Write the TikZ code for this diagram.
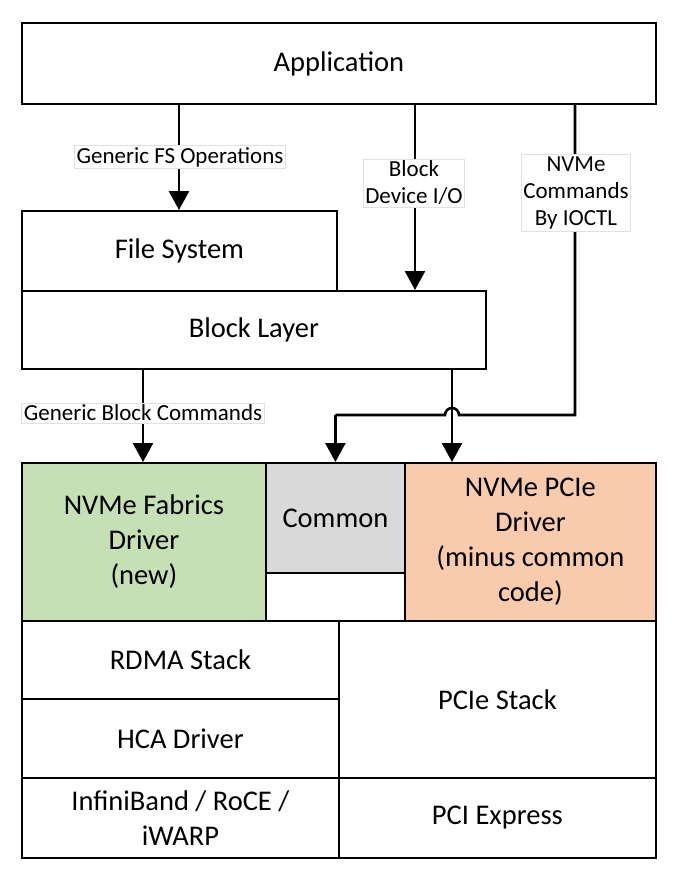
\documentclass[tikz,border=0pt]{standalone}
\usepackage{fontspec}
\setmainfont{Carlito}
\usetikzlibrary{arrows.meta}
\definecolor{fabgreen}{HTML}{C5E0B4}
\definecolor{comgray}{HTML}{D9D9D9}
\definecolor{pcieorange}{HTML}{F8CBAD}
\begin{document}
\begin{tikzpicture}[x=1pt,y=-1pt,
  box/.style={draw, line width=1.8pt, inner sep=0pt, anchor=north west, align=center,
              font=\fontsize{28.5}{35}\selectfont},
  lab/.style={draw=black!12, fill=white, line width=0.8pt, inner xsep=2pt, inner ysep=2pt, align=center,
              font=\fontsize{23}{27}\selectfont},
  arr/.style={line width=2.6pt, -{Triangle[width=20pt,length=19pt]}},
  ln/.style={line width=2.6pt}]
\useasboundingbox (0,0) rectangle (680,881);

% boxes
\node[box, minimum width=634pt, minimum height=81pt] (app) at (21,22) {Application};
\node[box, minimum width=315pt, minimum height=80pt] (fs) at (21,210) {File System};
\node[box, minimum width=464pt, minimum height=78pt] (bl) at (21,290) {Block Layer};
\node[box, fill=fabgreen, minimum width=244pt, minimum height=158pt] (fab) at (21,462) {NVMe Fabrics\\Driver\\(new)};
\node[box, fill=comgray, minimum width=139pt, minimum height=110pt] (com) at (265,462) {Common};
\node[box, minimum width=139pt, minimum height=48pt] (gap) at (265,572) {};
\node[box, fill=pcieorange, minimum width=251pt, minimum height=158pt] (pcie) at (404,462) {NVMe PCIe\\Driver\\(minus common\\code)};
\node[box, minimum width=317pt, minimum height=78pt] (rdma) at (21,620) {RDMA Stack};
\node[box, minimum width=317pt, minimum height=79pt] (hca) at (21,698) {HCA Driver};
\node[box, minimum width=317pt, minimum height=157pt] (pstack) at (338,620) {PCIe Stack};
\node[box, minimum width=317pt, minimum height=80pt] (ib) at (21,777) {InfiniBand / RoCE /\\iWARP};
\node[box, minimum width=317pt, minimum height=80pt] (pcx) at (338,777) {PCI Express};

% x positions of connectors
\coordinate (c1) at (179,0);
\coordinate (c2) at (415,0);
\coordinate (c3) at (575,0);
\coordinate (c4) at (452,0);
\coordinate (c5) at (143,0);
\coordinate (cy) at (0,415);

% connectors
\draw[arr] (app.south -| c1) -- (fs.north -| c1);
\draw[arr] (app.south -| c2) -- (bl.north -| c2);
\draw[arr] (bl.south -| c5) -- (fab.north -| c5);
\draw[arr] (bl.south -| c4) -- (pcie.north -| c4);
\coordinate (jr) at ([xshift=7pt]c4 |- cy);
\coordinate (jl) at ([xshift=-7pt]c4 |- cy);
\draw[ln] (app.south -| c3) -- (c3 |- cy) -- (jr) arc[start angle=0, end angle=180, radius=7pt] -- (com.north |- cy);
\draw[arr] (com.north |- cy) -- (com.north);

% labels
\node[lab] (l1) at (180,157) {Generic FS Operations};
\node[lab] (l2) at (414,183) {Block\\Device I/O};
\node[lab] (l3) at (576,193) {NVMe\\Commands\\By IOCTL};
\node[lab] (l5) at (143,413) {Generic Block Commands};
\end{tikzpicture}
\end{document}
